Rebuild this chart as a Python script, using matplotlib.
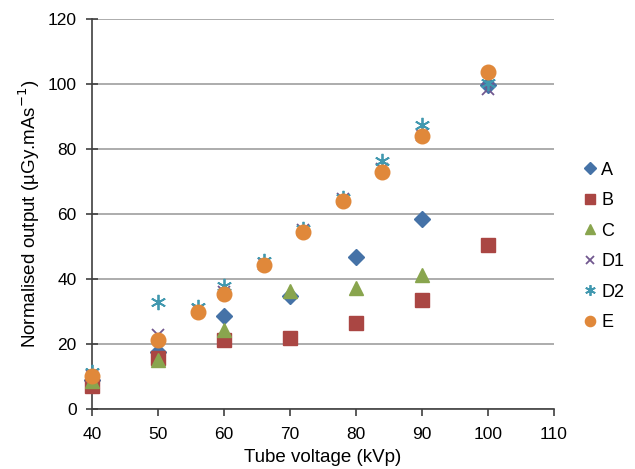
import matplotlib
matplotlib.use("Agg")
import matplotlib.pyplot as plt

plt.rcParams["font.family"] = ["Liberation Sans", "DejaVu Sans"]

# tube voltage (kVp) per series
kvp_abc = [40, 50, 60, 70, 80, 90, 100]
kvp_d = [40, 50, 56, 60, 66, 72, 78, 84, 90, 100]

a_vals = [9.0, 17.5, 28.6, 34.8, 46.8, 58.6, 99.7]
b_vals = [7.0, 15.6, 21.2, 22.0, 26.4, 33.5, 50.5]
c_vals = [8.5, 15.0, 24.3, 36.2, 37.1, 41.4, None]
d1_vals = [10.0, 22.8, 30.5, 36.0, 44.5, 55.0, 64.5, 74.0, 84.5, 98.5]
d2_vals = [11.5, 33.0, 31.5, 37.8, 45.5, 55.3, 65.0, 76.5, 87.5, 100.5]
e_vals = [10.2, 21.3, 29.9, 35.4, 44.2, 54.6, 64.0, 73.0, 84.2, 103.9]

fig = plt.figure(figsize=(6.35, 4.69), dpi=100)
ax = fig.add_axes([0.145, 0.128, 0.727, 0.831])

def pts(xs, ys):
    pairs = [(x, y) for x, y in zip(xs, ys) if y is not None]
    return [p[0] for p in pairs], [p[1] for p in pairs]

series = [
    ("A", kvp_abc, a_vals, "D", "#4572A7", 8.5, {}),
    ("B", kvp_abc, b_vals, "s", "#AA4643", 10, {}),
    ("C", kvp_abc, c_vals, "^", "#89A54E", 10, {}),
    ("D1", kvp_d, d1_vals, "x", "#71588F", 9, {"mew": 1.3}),
    ("D2", kvp_d, d2_vals, (6, 2, 0), "#4198AF", 11, {"mew": 1.3}),
    ("E", kvp_d, e_vals, "o", "#E0883A", 10.5, {}),
]
handles = []
for name, xs, ys, mk, col, ms, kw in series:
    x, y = pts(xs, ys)
    h, = ax.plot(x, y, ls="none", marker=mk, color=col, ms=ms, label=name,
                 mec=col, clip_on=False, zorder=3, **kw)
    handles.append(h)

ax.set_xlim(40, 110)
ax.set_ylim(0, 120)
ax.set_xticks(range(40, 111, 10))
ax.set_yticks(range(0, 121, 20))
ax.yaxis.grid(True, color="#A6A6A6", lw=1.3)
ax.set_axisbelow(True)
for s in ("top", "right"):
    ax.spines[s].set_visible(False)
for s in ("left", "bottom"):
    ax.spines[s].set_color("#404040")
    ax.spines[s].set_linewidth(1.2)
ax.tick_params(axis="both", labelsize=12.5, color="#404040", width=1.2)
ax.tick_params(axis="x", direction="out", length=5, pad=8)
ax.tick_params(axis="y", direction="inout", length=8, pad=7)
ax.set_xlabel("Tube voltage (kVp)", fontsize=13.5, labelpad=5)
ax.set_ylabel("Normalised output (µGy.mAs$^{-1}$)", fontsize=13.5, labelpad=4)

fig.legend(handles=handles, loc="upper left", bbox_to_anchor=(0.89, 0.69),
           frameon=False, fontsize=13, handletextpad=0.1, labelspacing=0.75,
           handlelength=1.0, markerscale=0.7)

fig.savefig("out.png", dpi=100)
